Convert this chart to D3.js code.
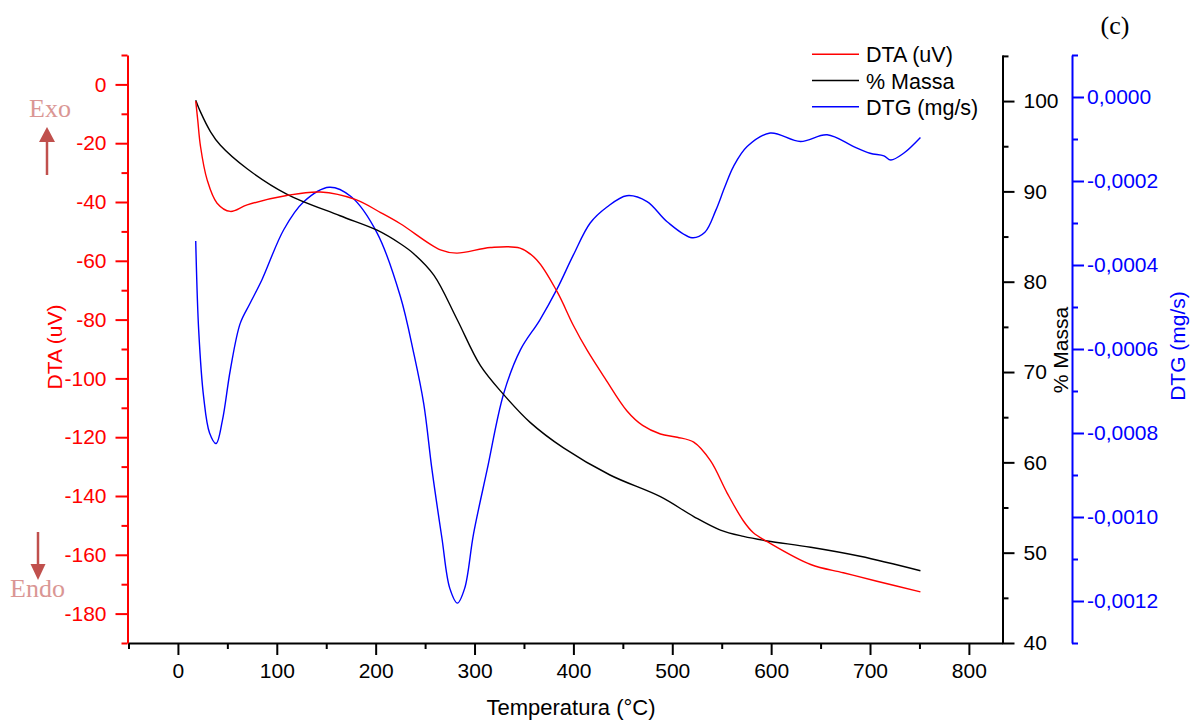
<!DOCTYPE html>
<html>
<head>
<meta charset="utf-8">
<script src="https://cdn.jsdelivr.net/npm/d3@7"></script>
<style>
  body { margin: 0; background: #fff; }
  text { font-family: Arial, "Liberation Sans", sans-serif; }
  text.serif { font-family: "Liberation Serif", "Times New Roman", serif; }
</style>
</head>
<body>
<svg id="graph" width="1192" height="726"></svg>
<script>
// DTA curve: temperature (°C) and signal (uV)
var dtaTemp = [18, 20, 22.8, 29.5, 39.6, 53, 70, 110, 144, 180, 205, 225, 265.5, 282, 316, 346, 363, 383.5, 400, 414, 432, 454, 470, 488, 505, 521.7, 538.6, 555.5, 572, 582, 596, 640, 673, 707, 751];
var dtaValue = [-5.7, -12, -21, -32.4, -40.4, -43.2, -41, -37.8, -36.6, -39.2, -43.6, -47.4, -56.3, -57.4, -55.5, -55.7, -59.7, -70.5, -82, -90.5, -100, -111, -116, -118.9, -120, -121.7, -128, -139, -148.5, -152.5, -155.5, -163.3, -166.1, -169, -172.6];

// % Massa curve
var massaTemp = [18, 22.8, 33, 43, 70, 110, 164, 201.5, 225, 238.5, 259, 282, 306, 329.5, 356.5, 390, 437, 488, 521.7, 548.7, 572, 596, 640, 690, 751];
var massaValue = [100.1, 98.8, 96.6, 95.1, 92.5, 89.7, 87.3, 85.7, 84.2, 83.1, 80.7, 75.9, 70.7, 67.5, 64.4, 61.6, 58.6, 56.2, 54, 52.5, 51.8, 51.3, 50.6, 49.6, 48];

// DTG curve (mg/s)
var dtgTemp = [18, 21, 26, 32, 38.6, 45, 53, 63, 73, 85, 107, 127, 153, 175, 201.5, 225, 238.5, 248.6, 257, 267, 275, 282.7, 290, 299, 312.7, 329.5, 346.4, 366, 383.5, 400, 417, 434, 454, 474.5, 494.8, 520, 533, 544, 553, 562, 575.7, 599, 629.6, 656.6, 683.5, 700, 714, 721, 734, 751];
var dtgValue = [-0.000343, -0.000555, -0.000714, -0.0008, -0.000825, -0.00077, -0.00065, -0.000539, -0.000491, -0.000435, -0.000316, -0.00025, -0.000215, -0.000237, -0.000324, -0.000475, -0.00061, -0.00073, -0.000888, -0.00105, -0.00117, -0.001205, -0.00117, -0.00104, -0.000888, -0.000706, -0.000602, -0.000531, -0.000457, -0.000376, -0.0003, -0.000262, -0.000235, -0.000249, -0.000297, -0.000335, -0.000322, -0.00027, -0.000215, -0.000165, -0.000118, -0.0000858, -0.000106, -0.00009, -0.000118, -0.000134, -0.00014, -0.00015, -0.000134, -0.0000963];

// tick values
var xTicks = [0, 100, 200, 300, 400, 500, 600, 700, 800];
var xMinor = [-50, 50, 150, 250, 350, 450, 550, 650, 750];
var dtaTicks = [0, -20, -40, -60, -80, -100, -120, -140, -160, -180];
var dtaMinor = [10, -10, -30, -50, -70, -90, -110, -130, -150, -170, -190];
var massaTicks = [40, 50, 60, 70, 80, 90, 100];
var massaMinor = [45, 55, 65, 75, 85, 95, 105];
var dtgTicks = [0, -0.0002, -0.0004, -0.0006, -0.0008, -0.0010, -0.0012];
var dtgMinor = [0.0001, -0.0001, -0.0003, -0.0005, -0.0007, -0.0009, -0.0011, -0.0013];

var legendNames = ["DTA (uV)", "% Massa", "DTG (mg/s)"];
var legendColors = ["#ff0000", "#000000", "#0000ff"];

var svg = d3.select("#graph");

var xScale = d3.scaleLinear().domain([-51, 834]).range([127.5, 1002.5]);
var dtaScale = d3.scaleLinear().domain([-190, 10]).range([643, 55]);
var massaScale = d3.scaleLinear().domain([40, 105.1]).range([643, 55]);
var dtgScale = d3.scaleLinear().domain([-0.0013, 0.0001]).range([643, 55]);

var zip = function (a, b) {
  return a.map(function (d, i) {
    return [d, b[i]];
  });
};

var styleAxis = function (g, color) {
  g.selectAll("path").attr("stroke", color).attr("stroke-width", 2);
  g.selectAll("line").attr("stroke", color).attr("stroke-width", 2);
  g.selectAll("text").attr("fill", color).attr("font-size", 21);
};

var drawAxis = function (axis, minorAxis, x, y, color) {
  var gMinor = svg.append("g").attr("transform", "translate(" + x + "," + y + ")").call(minorAxis);
  gMinor.select(".domain").remove();
  styleAxis(gMinor, color);
  var g = svg.append("g").attr("transform", "translate(" + x + "," + y + ")").call(axis);
  styleAxis(g, color);
  return g;
};

var noLabel = function () {
  return "";
};

// x axis
drawAxis(
  d3.axisBottom(xScale).tickValues(xTicks).tickSize(12).tickSizeOuter(0).tickPadding(8).tickFormat(function (d) { return String(d); }),
  d3.axisBottom(xScale).tickValues(xMinor).tickSize(6).tickFormat(noLabel),
  0, 643, "#000"
);

// DTA axis (left)
drawAxis(
  d3.axisLeft(dtaScale).tickValues(dtaTicks).tickSize(12).tickSizeOuter(0).tickPadding(9).tickFormat(function (d) { return String(d); }),
  d3.axisLeft(dtaScale).tickValues(dtaMinor).tickSize(6).tickFormat(noLabel),
  127.5, 0, "#ff0000"
);

// % Massa axis (right)
drawAxis(
  d3.axisRight(massaScale).tickValues(massaTicks).tickSize(12).tickSizeOuter(0).tickPadding(9).tickFormat(function (d) { return String(d); }),
  d3.axisRight(massaScale).tickValues(massaMinor).tickSize(6).tickFormat(noLabel),
  1002.5, 0, "#000"
);

// DTG axis (offset right)
drawAxis(
  d3.axisRight(dtgScale).tickValues(dtgTicks).tickSize(12).tickSizeOuter(0).tickPadding(3).tickFormat(function (d) { return d.toFixed(4).replace(".", ","); }),
  d3.axisRight(dtgScale).tickValues(dtgMinor).tickSize(6).tickFormat(noLabel),
  1072, 0, "#0000ff"
);

// curves
var drawCurve = function (points, yScale, color) {
  var line = d3.line()
    .x(function (d) { return xScale(d[0]); })
    .y(function (d) { return yScale(d[1]); })
    .curve(d3.curveCatmullRom.alpha(0.5));
  svg.append("path")
    .datum(points)
    .attr("d", line)
    .attr("fill", "none")
    .attr("stroke", color)
    .attr("stroke-width", 1.4);
};

drawCurve(zip(dtgTemp, dtgValue), dtgScale, "#0000ff");
drawCurve(zip(massaTemp, massaValue), massaScale, "#000000");
drawCurve(zip(dtaTemp, dtaValue), dtaScale, "#ff0000");

// axis titles
svg.append("text")
  .attr("x", 571).attr("y", 715)
  .attr("text-anchor", "middle").attr("font-size", 22)
  .text("Temperatura (°C)");

svg.append("text")
  .attr("transform", "translate(62,347) rotate(-90)")
  .attr("text-anchor", "middle").attr("font-size", 21).attr("fill", "#ff0000")
  .text("DTA (uV)");

svg.append("text")
  .attr("transform", "translate(1068,350) rotate(-90)")
  .attr("text-anchor", "middle").attr("font-size", 21).attr("fill", "#000")
  .text("% Massa");

svg.append("text")
  .attr("transform", "translate(1185,346) rotate(-90)")
  .attr("text-anchor", "middle").attr("font-size", 21).attr("fill", "#0000ff")
  .text("DTG (mg/s)");

// legend
var legend = svg.append("g").selectAll("g")
  .data(legendNames)
  .enter()
  .append("g")
  .attr("transform", function (d, i) {
    return "translate(812," + (54.3 + i * 26.2) + ")";
  });

legend.append("line")
  .attr("x1", 0).attr("x2", 47)
  .attr("stroke", function (d, i) { return legendColors[i]; })
  .attr("stroke-width", 1.4);

legend.append("text")
  .attr("x", 54).attr("y", 8)
  .attr("font-size", 21.5)
  .text(function (d) { return d; });

// Exo / Endo markers
var arrowColor = "#c0504d";
var markColor = "#da9694";

svg.append("line").attr("x1", 47).attr("x2", 47).attr("y1", 175).attr("y2", 140)
  .attr("stroke", arrowColor).attr("stroke-width", 2.5);
svg.append("path").attr("d", "M39,142 L47,127 L55,142 Z").attr("fill", arrowColor);
svg.append("text").attr("class", "serif").attr("x", 29).attr("y", 117)
  .attr("font-size", 26).attr("fill", markColor).text("Exo");

svg.append("line").attr("x1", 38).attr("x2", 38).attr("y1", 532).attr("y2", 566)
  .attr("stroke", arrowColor).attr("stroke-width", 2.5);
svg.append("path").attr("d", "M30.5,564 L38,580 L45.5,564 Z").attr("fill", arrowColor);
svg.append("text").attr("class", "serif").attr("x", 10).attr("y", 597)
  .attr("font-size", 26).attr("fill", markColor).text("Endo");

svg.append("text").attr("class", "serif").attr("x", 1115).attr("y", 34)
  .attr("text-anchor", "middle")
  .attr("font-size", 26).attr("fill", "#000").text("(c)");
</script>
</body>
</html>
